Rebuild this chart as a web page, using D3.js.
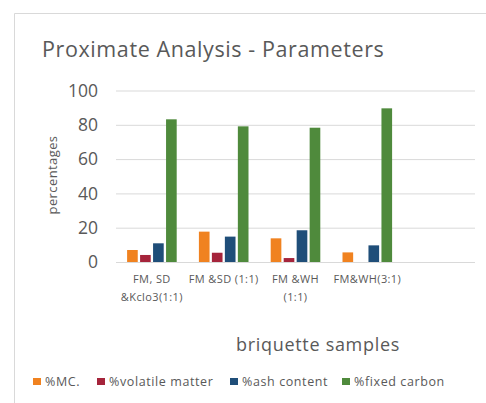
<!DOCTYPE html>
<html>
<head>
<meta charset="utf-8">
<script src="https://cdn.jsdelivr.net/npm/d3@7"></script>
<style>
  html, body { margin: 0; padding: 0; background: #fff; }
  svg { display: block; font-family: "Open Sans", Lato, sans-serif; }
</style>
</head>
<body>
<svg id="chart" width="486" height="403"></svg>
<script>
// Sample groups on the x axis (the last slot is left empty)
const categories = [
  ["FM, SD", "&Kclo3(1:1)"],
  ["FM &SD (1:1)"],
  ["FM &WH", "(1:1)"],
  ["FM&WH(3:1)"],
  [""]
];
const seriesNames = ["%MC.", "%volatile matter", "%ash content", "%fixed carbon"];
const moisture   = [7.0, 17.7, 13.8, 5.6];
const volatile   = [4.1, 5.4, 2.3, 0];
const ash        = [10.9, 14.8, 18.5, 9.7];
const fixedCarbon = [83.2, 79.1, 78.3, 89.6];
const yTicks = [0, 20, 40, 60, 80, 100];
const colors = ["#f08220", "#a5243b", "#1f4e79", "#4f8a3c"];

const series = [moisture, volatile, ash, fixedCarbon];
const svg = d3.select("#chart");
const textColor = "#595959";

// outer frame of the chart area
svg.append("path")
  .attr("d", "M14.5,403 L14.5,13.5 L486,13.5")
  .attr("fill", "none").attr("stroke", "#d9d9d9").attr("stroke-width", 1);

const plot = { left: 116, right: 475, top: 90.5, bottom: 262 };

const x = d3.scaleBand()
  .domain(d3.range(categories.length))
  .range([plot.left, plot.right])
  .paddingInner(0).paddingOuter(0);

const barStep = 12.4;
const inner = d3.scaleBand()
  .domain(d3.range(series.length))
  .range([0, barStep * series.length])
  .paddingInner(0.18);

const y = d3.scaleLinear().domain([0, 100]).range([plot.bottom, plot.top]);

// gridlines and value axis labels
const yAxis = d3.axisLeft(y).tickValues(yTicks)
  .tickSize(-(plot.right - plot.left)).tickPadding(18);
const gy = svg.append("g").attr("transform", `translate(${plot.left},0)`).call(yAxis);
gy.select(".domain").remove();
gy.selectAll(".tick line").attr("stroke", "#d9d9d9").attr("stroke-width", 1);
gy.selectAll(".tick text")
  .attr("fill", textColor).style("font-size", "17.5px").style("font-family", "'Open Sans', sans-serif");

// bars
const groupWidth = barStep * series.length;
series.forEach((vals, si) => {
  svg.append("g").selectAll("rect")
    .data(vals)
    .join("rect")
    .attr("x", (d, i) => x(i) + (x.bandwidth() - groupWidth) / 2 + inner(si))
    .attr("y", d => y(d))
    .attr("width", inner.bandwidth())
    .attr("height", d => y(0) - y(d))
    .attr("fill", colors[si]);
});

// category axis line
svg.append("line")
  .attr("x1", plot.left).attr("x2", plot.right)
  .attr("y1", plot.bottom + 0.5).attr("y2", plot.bottom + 0.5)
  .attr("stroke", "#d9d9d9");

// category labels
categories.forEach((lines, i) => {
  const cx = x(i) + x.bandwidth() / 2;
  const t = svg.append("text")
    .attr("x", cx)
    .attr("y", 283)
    .attr("text-anchor", "middle")
    .attr("fill", textColor)
    .style("font-size", "11px")
    .style("letter-spacing", "0.4px");
  lines.forEach((ln, j) => {
    t.append("tspan").attr("x", cx).attr("dy", j === 0 ? 0 : 18).text(ln);
  });
});

// title
svg.append("text")
  .attr("x", 42).attr("y", 57)
  .attr("fill", textColor)
  .style("font-size", "21.5px")
  .style("letter-spacing", "0.6px")
  .text("Proximate Analysis - Parameters");

// axis titles
svg.append("text")
  .attr("transform", "translate(57,175) rotate(-90)")
  .attr("text-anchor", "middle")
  .attr("fill", textColor)
  .style("font-size", "13px")
  .style("letter-spacing", "0.4px")
  .text("percentages");

svg.append("text")
  .attr("x", 318).attr("y", 351)
  .attr("text-anchor", "middle")
  .attr("fill", textColor)
  .style("font-size", "18px")
  .style("letter-spacing", "0.7px")
  .text("briquette samples");

// legend
const legendX = [33, 97, 230, 342];
seriesNames.forEach((name, i) => {
  const g = svg.append("g").attr("transform", `translate(${legendX[i]},378)`);
  g.append("rect").attr("width", 8).attr("height", 7).attr("fill", colors[i]);
  g.append("text").attr("x", 12).attr("y", 8)
    .attr("fill", textColor)
    .style("font-size", "12.5px")
    .style("letter-spacing", "0.6px")
    .text(name);
});
</script>
</body>
</html>
